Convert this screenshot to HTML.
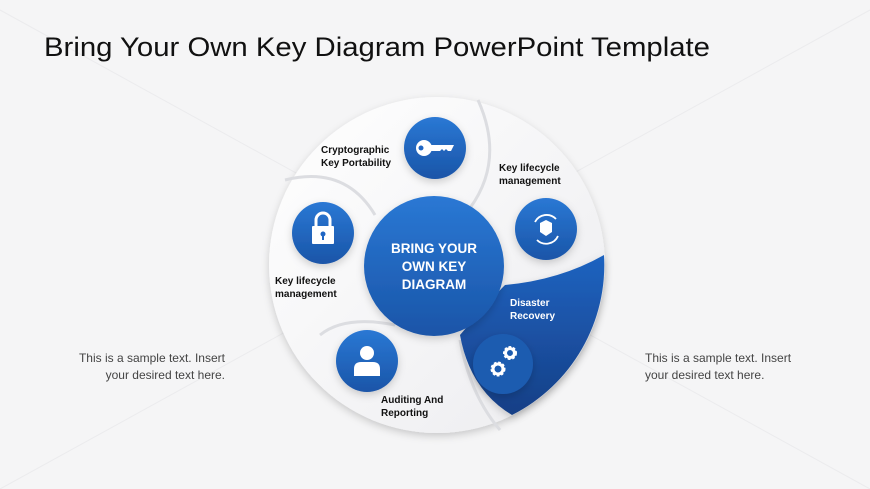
<!DOCTYPE html>
<html><head><meta charset="utf-8"><style>
html,body{margin:0;padding:0;background:#f5f5f6;}
svg{display:block;font-family:"Liberation Sans",sans-serif;}
</style></head><body>
<svg width="870" height="489" viewBox="0 0 870 489" xmlns="http://www.w3.org/2000/svg">
<defs>
<linearGradient id="bl" x1="0" y1="0" x2="0" y2="1"><stop offset="0" stop-color="#2a78d4"/><stop offset="1" stop-color="#1a55a8"/></linearGradient>
<linearGradient id="dk" x1="0" y1="0" x2="0" y2="1"><stop offset="0" stop-color="#1f63c0"/><stop offset="1" stop-color="#163f86"/></linearGradient>
<linearGradient id="wh" x1="0" y1="0" x2="1" y2="1"><stop offset="0" stop-color="#ffffff"/><stop offset="1" stop-color="#ececef"/></linearGradient>
<filter id="sh" x="-20%" y="-20%" width="140%" height="140%"><feDropShadow dx="0" dy="3" stdDeviation="4" flood-color="#000" flood-opacity="0.18"/></filter>
</defs>
<rect width="870" height="489" fill="#f5f5f6"/>
<g stroke="#ebebed" stroke-width="1"><line x1="0" y1="10" x2="870" y2="489"/><line x1="870" y1="10" x2="0" y2="489"/></g>
<text x="44" y="56" font-size="27" fill="#111" textLength="666" lengthAdjust="spacingAndGlyphs">Bring Your Own Key Diagram PowerPoint Template</text>

<circle cx="437" cy="265" r="168" fill="url(#wh)" filter="url(#sh)"/>
<g fill="none" stroke="#dcdde1" stroke-width="3">
<path d="M478 100 Q505 160 470 208"/>
<path d="M285 180 Q345 165 375 215"/>
<path d="M320 335 Q345 315 395 325"/>
<path d="M460 340 Q470 395 500 430"/>
</g>
<path d="M604 255 A168 168 0 0 1 512 415 Q470 390 460 335 Q490 300 505 285 Q560 280 604 255 Z" fill="url(#dk)" filter="url(#sh)"/>

<circle cx="434" cy="266" r="70" fill="url(#bl)" filter="url(#sh)"/>
<text x="434" y="253" font-size="13.5" font-weight="bold" fill="#fff" text-anchor="middle">BRING YOUR</text>
<text x="434" y="271" font-size="13.5" font-weight="bold" fill="#fff" text-anchor="middle">OWN KEY</text>
<text x="434" y="289" font-size="13.5" font-weight="bold" fill="#fff" text-anchor="middle">DIAGRAM</text>

<g filter="url(#sh)">
<circle cx="435" cy="148" r="31" fill="url(#bl)"/>
<circle cx="546" cy="229" r="31" fill="url(#bl)"/>
<circle cx="323" cy="233" r="31" fill="url(#bl)"/>
<circle cx="367" cy="361" r="31" fill="url(#bl)"/>
<circle cx="503" cy="364" r="30" fill="#1d5bb0"/>
</g>
<circle cx="424" cy="148" r="8" fill="#fff"/><circle cx="421" cy="148" r="2.5" fill="#1f66c4"/>
<path d="M430 145 H454 L451 151 H448 L446 149 L444 151 L442 149 L440 151 H430 Z" fill="#fff"/>
<path d="M316 226 V220 A7 7 0 0 1 330 220 V226" fill="none" stroke="#fff" stroke-width="3"/>
<rect x="312" y="226" width="22" height="18" rx="1" fill="#fff"/><circle cx="323" cy="234" r="2.5" fill="#1f66c4"/><rect x="322" y="234" width="2" height="6" fill="#1f66c4"/>
<g fill="none" stroke="#fff" stroke-width="1.8"><path d="M535 222 A13 13 0 0 1 556 219"/><path d="M558 236 A13 13 0 0 1 537 240"/></g>
<path d="M540 223 L546 220 L552 223 L552 232 L546 236 L540 232 Z" fill="#fff"/>
<circle cx="367" cy="353" r="7" fill="#fff"/><path d="M354 376 V369 Q354 362 361 362 H373 Q380 362 380 369 V376 Z" fill="#fff"/>
<g fill="none" stroke="#fff"><circle cx="510" cy="353" r="5" stroke-width="4" stroke-dasharray="2.2 1.5"/><circle cx="510" cy="353" r="4.5" stroke-width="3"/><circle cx="498" cy="369" r="5.5" stroke-width="4" stroke-dasharray="2.2 1.5"/><circle cx="498" cy="369" r="5" stroke-width="3"/></g>

<g font-size="10" font-weight="bold" fill="#111">
<text x="321" y="153">Cryptographic</text><text x="321" y="166">Key Portability</text>
<text x="499" y="171">Key lifecycle</text><text x="499" y="184">management</text>
<text x="275" y="284">Key lifecycle</text><text x="275" y="297">management</text>
<text x="381" y="403">Auditing And</text><text x="381" y="416">Reporting</text>
<text x="510" y="306" fill="#fff">Disaster</text><text x="510" y="319" fill="#fff">Recovery</text>
</g>
<g font-size="12" fill="#444">
<text x="225" y="362" text-anchor="end">This is a sample text. Insert</text>
<text x="225" y="379" text-anchor="end">your desired text here.</text>
<text x="645" y="362">This is a sample text. Insert</text>
<text x="645" y="379">your desired text here.</text>
</g>
</svg>
</body></html>
